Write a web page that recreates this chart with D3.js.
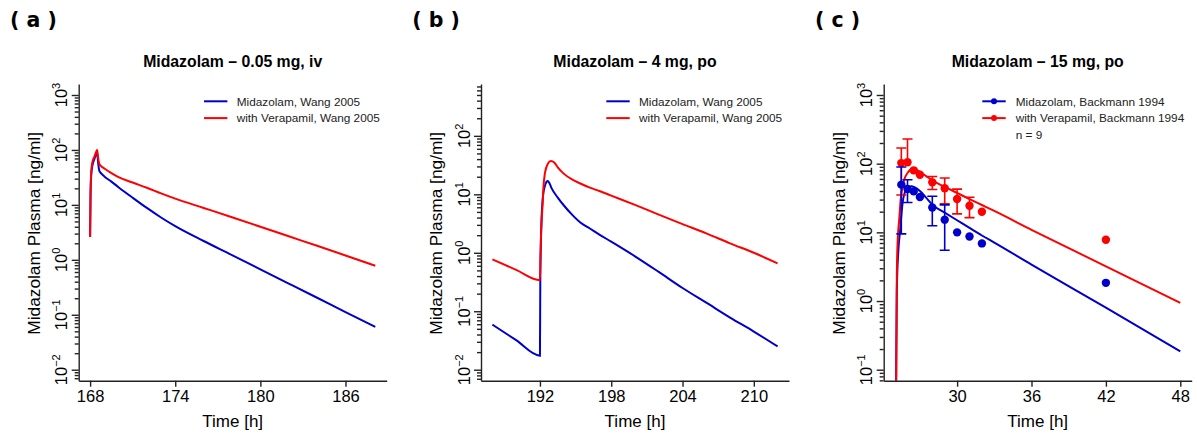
<!DOCTYPE html>
<html>
<head>
  <meta charset="utf-8">
  <title>Midazolam with Verapamil</title>
  <script src="https://d3js.org/d3.v7.min.js"></script>
  <style>
    body { margin: 0; background: #fff; }
    text { font-family: "Liberation Sans", Arial, sans-serif; fill: #000; }
  </style>
</head>
<body>
<div id="chart"></div>
<script>
// ---- data: [time h, conc ng/ml] ----
const midA = [[168,2.6],[168.03,15],[168.08,35],[168.15,50],[168.3,68],[168.45,85],[168.5,87],[168.56,60],
  [168.66,41],[168.8,37],[169,33],[169.5,26.5],[170,21],[171,13.5],[172,8.8],[173,5.9],[174,4.1],[176,2.2],
  [178,1.22],[180,0.67],[182,0.37],[184,0.204],[186,0.112],[188.1,0.06]];
const verA = [[168,2.6],[168.03,16],[168.08,40],[168.15,58],[168.3,75],[168.45,95],[168.5,100],[168.57,70],
  [168.66,55],[168.8,50],[169,46],[169.5,38],[170,32],[171,25.5],[172,20.5],[173,16.2],[174,13],[176,8.8],
  [178,5.95],[180,4.0],[182,2.68],[184,1.8],[186,1.2],[188.1,0.78]];

const midB = [[188,0.059],[190,0.032],[192,0.0174],[192.03,0.3],[192.08,1.5],[192.15,4.5],[192.25,9],
  [192.4,13.5],[192.55,16.3],[192.65,16.9],[192.8,15.5],[193,12.5],[193.5,8.8],[194,6.5],[194.7,4.5],
  [195.4,3.3],[196.2,2.6],[197,2.05],[198,1.55],[200,0.87],[202,0.47],[204,0.25],[206,0.14],[208,0.078],
  [210,0.045],[212,0.025]];
const verB = [[188,0.77],[190,0.51],[192,0.34],[192.04,0.8],[192.08,1.7],[192.15,3.8],[192.22,6.5],
  [192.28,12],[192.42,23],[192.65,33],[192.93,37],[193.2,35],[193.5,29],[194,22.6],[194.7,18],[195.4,15.3],
  [196.2,13],[197,11.4],[198,9.5],[200,6.6],[202,4.5],[204,3.1],[206,2.15],[208,1.45],[210,1.0],[212,0.66]];

const midC = [[25,0.0003],[25.04,0.005],[25.08,0.07],[25.14,1.5],[25.25,5],[25.41,10.9],[25.6,26.6],
  [25.87,41.7],[26.1,46],[26.3,47],[26.6,45],[27,40],[27.5,32],[28,25.3],[29,19.4],[30,15],[31,11.6],
  [32,9],[33,7.1],[36,3.4],[42,0.8],[48,0.185]];
const verC = [[25,0.0005],[25.05,0.006],[25.09,0.07],[25.14,2.5],[25.2,7],[25.33,15.3],[25.45,30],
  [25.6,47],[25.8,63],[26,73],[26.2,81],[26.4,85],[26.7,82],[27,76],[27.5,66],[28,57],[29,46],[30,37.5],
  [31,30.5],[32,25],[33,20.5],[36,10.9],[42,3.2],[48,0.94]];

// observed data, Backmann 1994 (mean, sd)
const obsTime = [25.5, 26, 26.5, 27, 28, 29, 30, 31, 32, 42];
const obsMid = [49.5, 42.8, 39.5, 32.7, 23, 15.3, 10, 8.7, 6.9, 1.84];
const obsMidSd = [40, 15.6, null, null, 10.5, 9.8, null, null, null, null];
const obsVer = [102, 105, 80, 69, 53.5, 44, 30.6, 24.4, 20, 7.8];
const obsVerSd = [67, 124, null, null, 11.5, 18, 12, 8, null, null];

const titles = ["Midazolam \u2013 0.05 mg, iv", "Midazolam \u2013 4 mg, po", "Midazolam \u2013 15 mg, po"];
const tags = ["( a )", "( b )", "( c )"];
const xTicks = [[168, 174, 180, 186], [192, 198, 204, 210], [30, 36, 42, 48]];
const yLims = [[1e-2, 1e3], [1e-2, 500], [1e-1, 1e3]];
const legendAB = ["Midazolam, Wang 2005", "with Verapamil, Wang 2005"];
const legendC = ["Midazolam, Backmann 1994", "with Verapamil, Backmann 1994", "n = 9"];

const blue = "#0000cd", red = "#ff0000", axisCol = "#222";
const width = 1197, height = 434;
const plotW = 308, plotTop = 84, plotBottom = 380.7;
const lefts = [78.7, 481, 883.7];

const svg = d3.select("#chart").append("svg")
  .attr("width", width).attr("height", height);

const panels = [
  { mid: midA, ver: verA, obs: false },
  { mid: midB, ver: verB, obs: false },
  { mid: midC, ver: verC, obs: true }
];

panels.forEach((p, i) => {
  const left = lefts[i];
  const g = svg.append("g");

  // R-style 4% axis extension
  const xe = d3.extent(p.mid.concat(p.ver), d => d[0]);
  const xp = (xe[1] - xe[0]) * 0.04;
  const x = d3.scaleLinear().domain([xe[0] - xp, xe[1] + xp]).range([left, left + plotW]);
  const l0 = Math.log10(yLims[i][0]), l1 = Math.log10(yLims[i][1]);
  const yp = (l1 - l0) * 0.04;
  const y = d3.scaleLog().domain([10 ** (l0 - yp), 10 ** (l1 + yp)]).range([plotBottom, plotTop]);

  const clipId = "clip" + i;
  svg.append("clipPath").attr("id", clipId).append("rect")
    .attr("x", left).attr("y", plotTop).attr("width", plotW).attr("height", plotBottom - plotTop);

  // axes
  const xAxis = d3.axisBottom(x).tickValues(xTicks[i]).tickSize(6).tickSizeOuter(0).tickPadding(4);
  const gx = g.append("g").attr("transform", `translate(0,${plotBottom})`).call(xAxis);
  gx.selectAll("text").attr("font-size", 16.5).attr("font-family", "Liberation Sans, Arial, sans-serif").attr("fill", "#000");

  const [d0, d1] = y.domain();
  const majors = d3.range(Math.ceil(Math.log10(d0)), Math.floor(Math.log10(d1)) + 1);
  const minors = [];
  d3.range(Math.floor(Math.log10(d0)), Math.ceil(Math.log10(d1)) + 1).forEach(k => {
    for (let m = 2; m <= 9; m++) {
      const v = m * 10 ** k;
      if (v >= d0 && v <= d1) minors.push(v);
    }
  });
  g.append("g").attr("transform", `translate(${left},0)`)
    .call(d3.axisLeft(y).tickValues(majors.map(k => 10 ** k)).tickSize(7).tickSizeOuter(0).tickFormat(""));
  g.append("g").attr("transform", `translate(${left},0)`)
    .call(d3.axisLeft(y).tickValues(minors).tickSize(4).tickSizeOuter(0).tickFormat(""))
    .select(".domain").remove();
  g.selectAll(".domain, .tick line").attr("stroke", axisCol).attr("stroke-width", 1.4);

  majors.forEach(k => {
    const t = g.append("text")
      .attr("transform", `translate(${left - 11.5},${y(10 ** k)}) rotate(-90)`)
      .attr("text-anchor", "middle").attr("font-size", 16.5);
    t.append("tspan").text("10");
    t.append("tspan").attr("font-size", 11).attr("dy", -7).text(k < 0 ? "\u2212" + (-k) : k);
  });

  // labels
  g.append("text").attr("x", left + plotW / 2).attr("y", 67).attr("text-anchor", "middle")
    .attr("font-size", 15.8).attr("font-weight", "bold").text(titles[i]);
  g.append("text").attr("x", left + plotW / 2).attr("y", 427).attr("text-anchor", "middle")
    .attr("font-size", 17).text("Time [h]");
  g.append("text").attr("transform", `translate(${left - 39},${(plotTop + plotBottom) / 2 + 1}) rotate(-90)`)
    .attr("text-anchor", "middle").attr("font-size", 17.3).text("Midazolam Plasma [ng/ml]");
  svg.append("text").attr("x", left - 68.7).attr("y", 26.5)
    .style("font-family", "DejaVu Sans, sans-serif")
    .attr("font-size", 20.5).attr("font-weight", "bold").text(tags[i]);

  // model curves
  const line = d3.line().x(d => x(d[0])).y(d => y(d[1])).curve(d3.curveMonotoneX);
  const plot = g.append("g").attr("clip-path", `url(#${clipId})`);
  plot.append("path").datum(p.mid).attr("d", line).attr("fill", "none")
    .attr("stroke", blue).attr("stroke-width", 2);
  plot.append("path").datum(p.ver).attr("d", line).attr("fill", "none")
    .attr("stroke", red).attr("stroke-width", 2);

  // observed points with sd bars
  if (p.obs) {
    [[obsVer, obsVerSd, red], [obsMid, obsMidSd, blue]].forEach(([m, sd, col]) => {
      obsTime.forEach((t, j) => {
        if (sd[j] == null) return;
        const ends = [m[j] + sd[j], m[j] - sd[j]].filter(v => v > 0);
        ends.forEach(v => {
          plot.append("line").attr("x1", x(t)).attr("x2", x(t))
            .attr("y1", y(m[j])).attr("y2", y(v)).attr("stroke", col).attr("stroke-width", 1.6);
          plot.append("line").attr("x1", x(t) - 5).attr("x2", x(t) + 5)
            .attr("y1", y(v)).attr("y2", y(v)).attr("stroke", col).attr("stroke-width", 1.6);
        });
      });
      plot.selectAll(null).data(obsTime).enter().append("circle")
        .attr("cx", d => x(d)).attr("cy", (d, j) => y(m[j])).attr("r", 4.2).attr("fill", col);
    });
  }

  // legend
  const names = p.obs ? legendC : legendAB;
  const lx0 = p.obs ? left + 98.6 : left + 125.3;
  const lx1 = lx0 + 23.4;
  const tx = p.obs ? left + 132 : left + 158;
  [blue, red].forEach((col, j) => {
    const ly = 101.3 + j * 16.8;
    g.append("line").attr("x1", lx0).attr("x2", lx1).attr("y1", ly).attr("y2", ly)
      .attr("stroke", col).attr("stroke-width", 2);
    if (p.obs) g.append("circle").attr("cx", (lx0 + lx1) / 2).attr("cy", ly).attr("r", 3).attr("fill", col);
    g.append("text").attr("x", tx).attr("y", ly + 4.2).attr("font-size", 11.8).style("fill", "#222")
      .text(names[j]);
  });
  if (p.obs) {
    g.append("text").attr("x", tx).attr("y", 101.3 + 2 * 16.8 + 4.2).attr("font-size", 11.8)
      .style("fill", "#222").text(names[2]);
  }
});
</script>
</body>
</html>
